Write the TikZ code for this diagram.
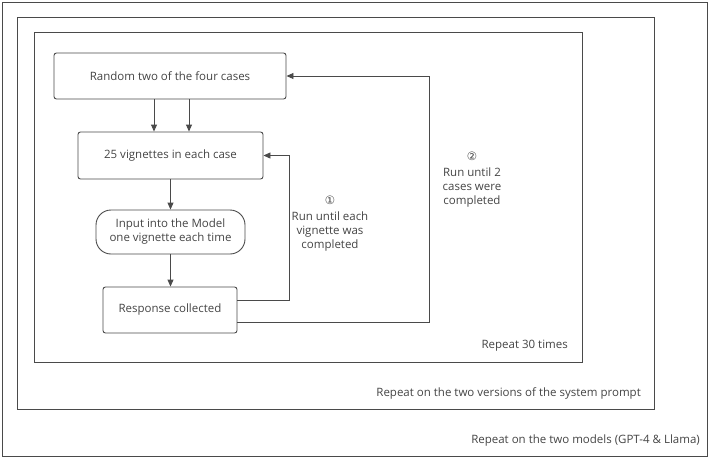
\documentclass[tikz,border=0pt]{standalone}
\usepackage{fontspec}
\setmainfont{Open Sans}
\newfontfamily\symfont{DejaVu Sans}
\usetikzlibrary{arrows.meta}
\definecolor{linec}{HTML}{4A4A4A}
\definecolor{textc}{HTML}{444444}
\tikzset{
  box/.style={draw=linec, line width=0.9pt, rounded corners=2.5pt, inner sep=0pt, text=textc, font=\fontsize{11.5}{14}\selectfont, align=center},
  pill/.style={draw=linec, line width=0.9pt, rounded corners=15pt, inner sep=0pt, text=textc, font=\fontsize{11.5}{14}\selectfont, align=center},
  frame/.style={draw=linec, line width=1pt},
  conn/.style={draw=linec, line width=0.9pt, -{Triangle[length=7pt,width=6pt]}},
  lbl/.style={text=textc, font=\fontsize{11.5}{14}\selectfont, align=center, inner sep=0pt},
  rlbl/.style={text=textc, font=\fontsize{11.5}{14}\selectfont, inner sep=0pt, anchor=east},
}
\begin{document}
\begin{tikzpicture}[x=1pt,y=-1pt]
\useasboundingbox (0,0) rectangle (709,458);
\draw[frame] (2,2) rectangle (707,456);
\draw[frame] (17,17) rectangle (654,409);
\draw[frame] (34,32) rectangle (582,362);
\node[box, minimum width=232pt, minimum height=46pt] (rand) at (170,76) {Random two of the four cases};
\node[box, minimum width=185pt, minimum height=47pt] (vig) at (170.5,155.5) {25 vignettes in each case};
\node[pill, minimum width=149pt, minimum height=44pt] (inp) at (170.5,232) {Input into the Model\\one vignette each time};
\node[box, minimum width=134pt, minimum height=46pt] (resp) at (170,310) {Response collected};
\draw[conn] ([xshift=-16pt]rand.south) -- ([xshift=-16pt]rand.south |- vig.north);
\draw[conn] ([xshift=19pt]rand.south) -- ([xshift=19pt]rand.south |- vig.north);
\draw[conn] (vig.south) -- (vig.south |- inp.north);
\draw[conn] (inp.south) -- (inp.south |- resp.north);
\coordinate (l1a) at (289,300);
\coordinate (l2a) at (429,322);
\draw[conn] (resp.east |- l1a) -- (l1a) -- (l1a |- vig.east) -- (vig.east);
\draw[conn] (resp.east |- l2a) -- (l2a) -- (l2a |- rand.east) -- (rand.east);
\node[lbl] (n1) at (330,224) {{\symfont\fontsize{11.5}{13}\selectfont ①}\\[2pt]Run until each\\vignette was\\completed};
\node[lbl] (n2) at (472,180) {{\symfont\fontsize{11.5}{13}\selectfont ②}\\[2pt]Run until 2\\cases were\\completed};
\node[rlbl] (r1) at (568,346) {Repeat 30 times};
\node[rlbl] (r2) at (641,393) {Repeat on the two versions of the system prompt};
\node[rlbl] (r3) at (700,441) {Repeat on the two models (GPT-4 \& Llama)};
\end{tikzpicture}
\end{document}
